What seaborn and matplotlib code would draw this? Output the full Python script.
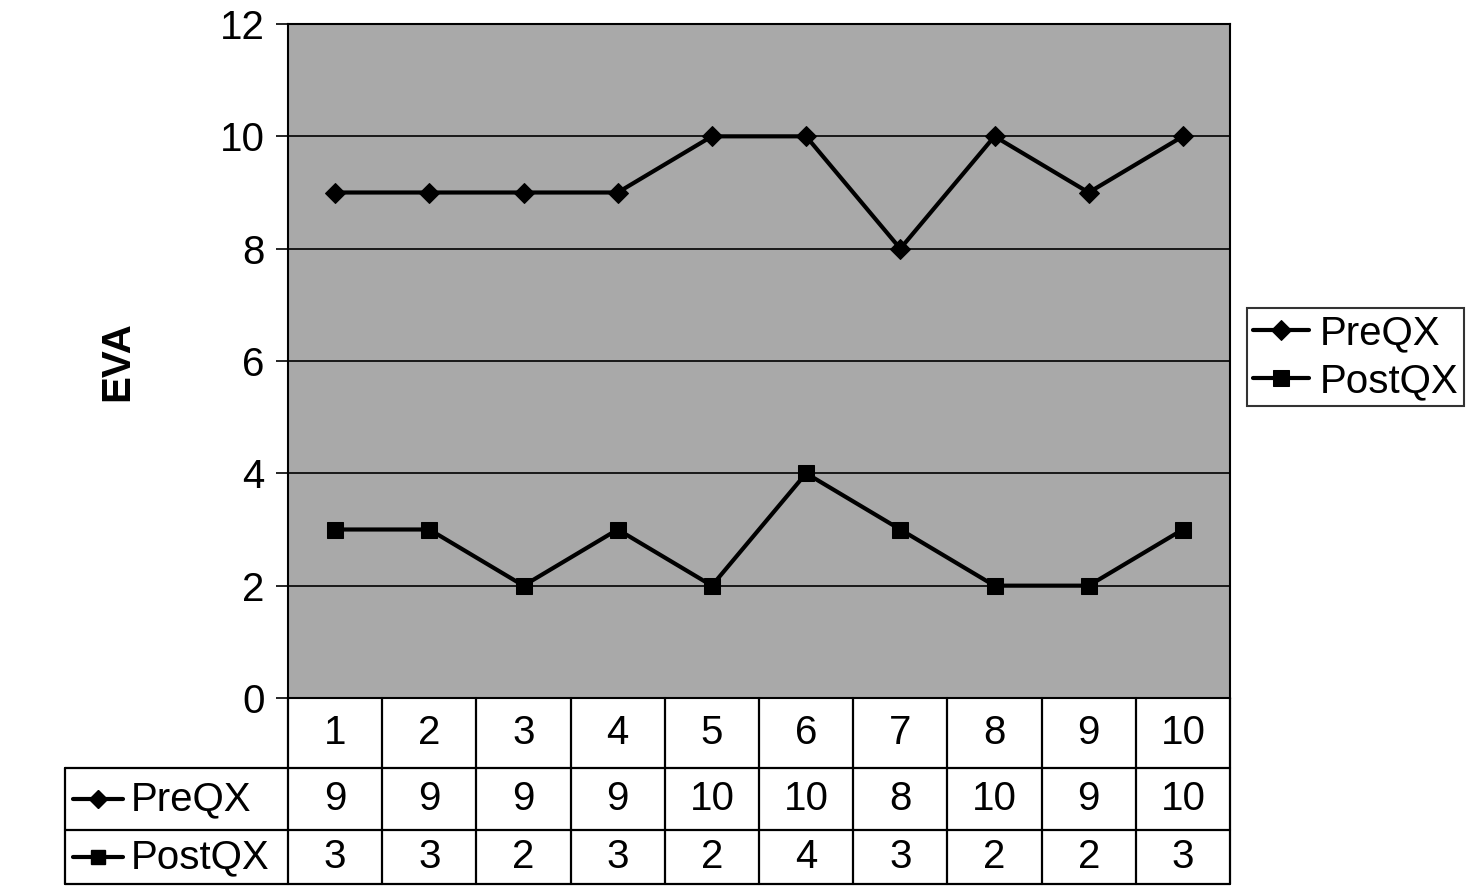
import matplotlib
matplotlib.use("Agg")
import matplotlib.pyplot as plt
import matplotlib.transforms as mtransforms
import seaborn as sns
import pandas as pd
import numpy as np

categories = ["1", "2", "3", "4", "5", "6", "7", "8", "9", "10"]
pre_qx = [9, 9, 9, 9, 10, 10, 8, 10, 9, 10]
post_qx = [3, 3, 2, 3, 2, 4, 3, 2, 2, 3]
series_names = ["PreQX", "PostQX"]
y_ticks = [0, 2, 4, 6, 8, 10, 12]

sns.set_theme(style="white")
plt.rcParams['font.family'] = ['Liberation Sans', 'DejaVu Sans']
plt.rcParams['text.color'] = 'black'
plt.rcParams['axes.labelcolor'] = 'black'
plt.rcParams['ytick.color'] = 'black'
plt.rcParams['xtick.color'] = 'black'

pos = np.arange(len(categories))
df = pd.DataFrame({
    "pos": np.concatenate([pos, pos]),
    "value": pre_qx + post_qx,
    "series": [series_names[0]] * len(pos) + [series_names[1]] * len(pos),
})

fig = plt.figure(figsize=(14.7, 8.86), dpi=100)
ax = fig.add_axes([288 / 1470, 1 - 698 / 886, (1230 - 288) / 1470, (698 - 24) / 886])
ax.set_facecolor("#a9a9a9")

markers = {"PreQX": "D", "PostQX": "s"}
msizes = {"PreQX": 10, "PostQX": 11}
for name in series_names:
    sub = df[df["series"] == name]
    sns.lineplot(data=sub, x="pos", y="value", ax=ax, color="black", lw=3,
                 marker=markers[name], markersize=msizes[name],
                 markeredgecolor="black", markerfacecolor="black", label=name,
                 legend=False)

ax.set_xlim(-0.5, len(categories) - 0.5)
ax.set_ylim(0, 12)
ax.set_yticks(y_ticks)
ax.set_yticklabels([str(t) for t in y_ticks], fontsize=29, color="black")
ax.set_xticks([])
ax.set_xlabel("")
ax.set_ylabel("EVA", fontsize=29, fontweight="bold", labelpad=60, color="black")
ax.yaxis.grid(True, color="black", lw=1.2)
ax.xaxis.grid(False)
ax.tick_params(axis="y", length=9, width=1.2, color="black", direction="out",
               left=True, pad=8)
for s in ax.spines.values():
    s.set_color("black")
    s.set_linewidth(1.5)

# data table below the plot
trans = mtransforms.blended_transform_factory(ax.transData, ax.transAxes)
axh = 698 - 24
y_hdr = -(768 - 698) / axh
y_pre = -(830 - 698) / axh
y_post = -(884 - 698) / axh
x_left = -0.5 - (288 - 65) / ((1230 - 288) / len(categories))
x_right = len(categories) - 0.5
lkw = dict(color="black", lw=1.6, transform=trans, clip_on=False)

for yy in [y_hdr, y_pre, y_post]:
    ax.plot([x_left, x_right], [yy, yy], **lkw)
for b in np.arange(-0.5, len(categories) + 0.5, 1.0):
    ax.plot([b, b], [0, y_post], **lkw)
ax.plot([x_left, x_left], [y_hdr, y_post], **lkw)

tkw = dict(transform=trans, ha="center", va="center", fontsize=29, clip_on=False,
           color="black")
for i, c in enumerate(categories):
    ax.text(i, (0 + y_hdr) / 2, c, **tkw)
    ax.text(i, (y_hdr + y_pre) / 2, str(pre_qx[i]), **tkw)
    ax.text(i, (y_pre + y_post) / 2, str(post_qx[i]), **tkw)

# row labels with legend keys
for name, yc in [("PreQX", (y_hdr + y_pre) / 2), ("PostQX", (y_pre + y_post) / 2)]:
    kx0 = x_left + 0.08
    kx1 = x_left + 0.62
    ax.plot([kx0, kx1], [yc, yc], color="black", lw=3, transform=trans, clip_on=False)
    ax.plot([(kx0 + kx1) / 2], [yc], marker=markers[name], markersize=msizes[name] - 1,
            color="black", transform=trans, clip_on=False)
    ax.text(x_left + 0.7, yc, name, transform=trans, ha="left", va="center",
            fontsize=29, clip_on=False, color="black")

# legend
handles, labels = ax.get_legend_handles_labels()
leg = fig.legend(handles, labels, loc="center left",
                 bbox_to_anchor=(1247 / 1470, 1 - 357 / 886), fontsize=29,
                 frameon=True, fancybox=False, handlelength=1.4, handletextpad=0.25,
                 borderpad=0.15, labelspacing=0.25, borderaxespad=0)
leg.get_frame().set_edgecolor("black")
leg.get_frame().set_linewidth(1.5)
leg.get_frame().set_facecolor("white")
for t in leg.get_texts():
    t.set_color("black")

fig.savefig("out.png", dpi=100, facecolor="white")
